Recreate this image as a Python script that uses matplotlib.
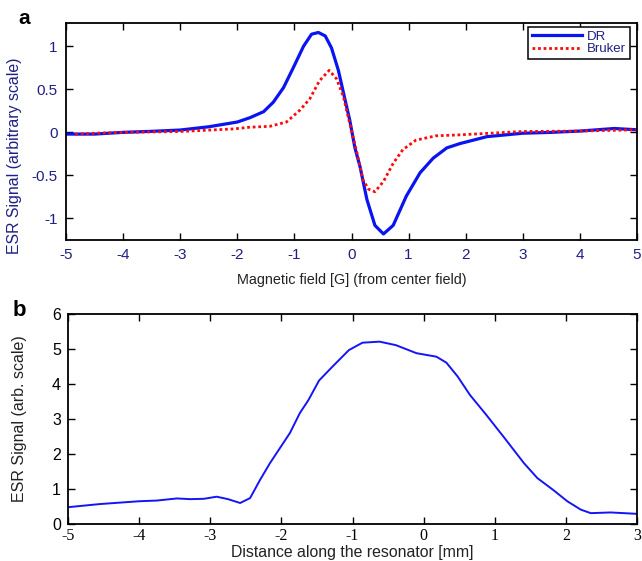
import matplotlib
matplotlib.use("Agg")
import matplotlib.pyplot as plt
import numpy as np

# panel a: ESR field sweep, DR resonator vs Bruker
dr_field = [-5, -4.5, -4, -3.5, -3, -2.5, -2, -1.78, -1.54, -1.37, -1.19,
            -1.02, -0.84, -0.7, -0.58, -0.46, -0.35, -0.23, -0.11, -0.03, 0.06,
            0.15, 0.27, 0.41, 0.56, 0.73, 0.96, 1.2, 1.43, 1.67, 1.9, 2.37, 3,
            3.5, 4, 4.6, 5]
dr_signal = [-0.02, -0.02, 0.0, 0.012, 0.027, 0.065, 0.12, 0.17, 0.24, 0.35,
             0.52, 0.75, 1.0, 1.14, 1.16, 1.12, 0.98, 0.72, 0.37, 0.14, -0.18,
             -0.4, -0.78, -1.08, -1.18, -1.08, -0.74, -0.47, -0.3, -0.18, -0.13,
             -0.05, -0.01, 0.0, 0.015, 0.045, 0.03]
bruker_field = [-4.84, -4.5, -4, -3, -2.06, -1.78, -1.43, -1.14, -0.9, -0.73,
                -0.56, -0.39, -0.26, -0.14, -0.03, 0.1, 0.2, 0.3, 0.41, 0.56,
                0.73, 0.9, 1.13, 1.48, 1.86, 3, 4, 5]
bruker_signal = [-0.02, -0.01, 0.0, 0.01, 0.04, 0.06, 0.07, 0.12, 0.26, 0.39,
                 0.6, 0.72, 0.62, 0.41, 0.1, -0.25, -0.55, -0.66, -0.69, -0.57,
                 -0.36, -0.2, -0.09, -0.04, -0.03, 0.01, 0.015, 0.03]

# panel b: signal along the resonator
pos = [-5, -4.55, -4, -3.75, -3.47, -3.28, -3.09, -2.91, -2.75, -2.58, -2.44,
       -2.3, -2.16, -2.02, -1.88, -1.74, -1.62, -1.47, -1.28, -1.05, -0.86,
       -0.62, -0.39, -0.1, 0.18, 0.32, 0.48, 0.65, 0.88, 1.14, 1.41, 1.6, 1.83,
       2.02, 2.21, 2.35, 2.63, 3]
pos_signal = [0.48, 0.57, 0.65, 0.67, 0.73, 0.71, 0.72, 0.78, 0.71, 0.6, 0.74,
              1.26, 1.74, 2.17, 2.6, 3.17, 3.54, 4.1, 4.5, 4.97, 5.18, 5.21,
              5.11, 4.88, 4.78, 4.61, 4.21, 3.69, 3.12, 2.45, 1.74, 1.31, 0.96,
              0.65, 0.41, 0.31, 0.33, 0.29]

navy = "#1f1f85"
W, H = 642, 561

plt.rcParams["font.family"] = ["Liberation Sans", "DejaVu Sans"]

fig = plt.figure(figsize=(W / 100, H / 100), dpi=100)


def px_axes(l, t, r, b):
    return fig.add_axes([l / W, 1 - b / H, (r - l) / W, (b - t) / H])


# ---- panel a
ax = px_axes(66, 23, 637, 240)
ax.plot(dr_field, dr_signal, color="#0a14f0", lw=2.3, label="DR")
ax.plot(bruker_field, bruker_signal, color="#ff0a0a", lw=2.0,
        linestyle=(0, (1, 1)), label="Bruker")
ax.set_xlim(-5, 5)
ax.set_ylim(-1.25, 1.27)
ax.set_xticks(range(-5, 6))
ax.set_yticks([-1, -0.5, 0, 0.5, 1])
ax.set_yticklabels(["-1", "-0.5", "0", "0.5", "1"])
ax.set_xticklabels([str(v) for v in range(-5, 6)])
ax.tick_params(direction="in", top=True, right=True, length=5, width=1,
               labelsize=11, labelcolor=navy, pad=6)
for s in ax.spines.values():
    s.set_linewidth(1.3)
ax.set_xlabel("Magnetic field [G] (from center field)", fontsize=10.4,
              color="#222222", labelpad=8)
ax.set_ylabel("ESR Signal (arbitrary scale)", fontsize=11.4, color=navy)
ax.yaxis.set_label_coords(-0.077, 0.39)
leg = ax.legend(loc="upper right", bbox_to_anchor=(0.988, 0.982),
                fontsize=9.5, fancybox=False, framealpha=1, borderpad=0.3,
                handlelength=3.8, handletextpad=0.4, labelspacing=0.0,
                borderaxespad=0)
leg.get_frame().set_edgecolor("black")
leg.get_frame().set_linewidth(1.1)
for t in leg.get_texts():
    t.set_color(navy)
fig.text(24 / W, 1 - 19 / H, "a", fontsize=15, fontweight="bold",
         ha="center", va="center")

# ---- panel b
bx = px_axes(68, 314, 637, 524)
bx.plot(pos, pos_signal, color="#1414f5", lw=1.4)
bx.set_xlim(-5, 3)
bx.set_ylim(0, 6)
bx.set_xticks(range(-5, 4))
bx.set_xticklabels([str(v) for v in range(-5, 4)])
bx.set_yticks(range(0, 7))
bx.tick_params(direction="in", top=True, right=True, length=5, width=1,
               labelsize=11.5, labelcolor="black", pad=5)
for lab in bx.get_xticklabels():
    lab.set_family(["Liberation Serif"])
    lab.set_fontsize(11.5)
bx.xaxis.set_tick_params(pad=3)
for s in bx.spines.values():
    s.set_linewidth(1.3)
bx.set_xlabel("Distance along the resonator [mm]", fontsize=11.4,
              color="#222222")
bx.xaxis.set_label_coords(0.5, -0.1)
bx.set_ylabel("ESR Signal (arb. scale)", fontsize=11.5, color="#222222")
bx.yaxis.set_label_coords(-0.072, 0.5)
fig.text(19 / W, 1 - 311 / H, "b", fontsize=16, fontweight="bold",
         ha="center", va="center")

fig.savefig("out.png", dpi=100)
